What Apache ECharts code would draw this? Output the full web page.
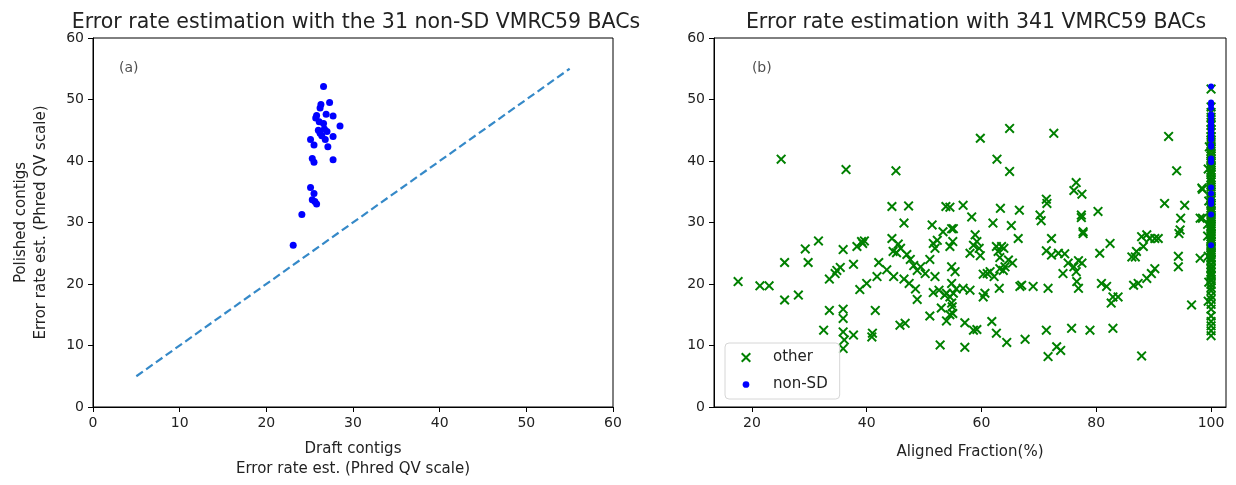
<!DOCTYPE html>
<html><head><meta charset="utf-8">
<script src="https://cdn.jsdelivr.net/npm/echarts@6/dist/echarts.min.js"></script>
<style>html,body{margin:0;padding:0;background:#fff}#chart{width:1236px;height:485px}</style>
</head><body><div id="chart"></div>
<script>
// ---- data ----
const draftQV = [26.6, 27.3, 26.3, 26.2, 25.8, 26.9, 27.7, 26.1, 26.6, 28.5, 26.7, 26.2, 26.4, 27.7, 26.8, 25.1, 25.5, 27.1, 25.3, 25.5, 27.7, 25.1, 25.5, 25.3, 25.8, 24.1, 23.1, 26.0, 27.0, 25.7, 25.6];
const polishedQV = [52.1, 49.5, 49.2, 48.6, 47.4, 47.6, 47.3, 46.4, 46.1, 45.7, 45.2, 44.5, 44.1, 44.0, 43.5, 43.5, 42.6, 42.3, 40.4, 39.8, 40.2, 35.7, 34.7, 33.7, 33.0, 31.3, 26.3, 45.0, 44.8, 47.0, 33.4];
const nonSdAligned = [100, 100, 100, 100, 100, 100, 100, 100, 100, 100, 100, 100, 100, 100, 100, 100, 100, 100, 100, 100, 100, 100, 100, 100, 100, 100, 100, 100, 100, 100, 100];
const diagonal = [[5, 5], [55, 55]];
const otherPoints = [
  [17.6,20.4],[21.4,19.7],[23.0,19.7],[25.1,40.3],[25.7,23.5],[25.7,17.4],[28.1,18.2],[29.3,25.7],[29.8,23.5],[31.6,27.0],
  [32.5,12.5],[33.5,20.8],[33.5,15.7],[34.5,21.7],[34.8,22.2],[35.4,22.7],[35.9,25.6],[36.4,38.6],[35.9,15.9],[35.9,14.4],
  [35.9,12.2],[36.1,10.9],[35.9,9.5],[37.7,23.2],[37.7,11.7],[38.3,26.1],[38.8,19.1],[39.3,26.6],[39.6,27.0],[39.1,26.9],
  [40.0,20.1],[40.9,11.4],[41.0,12.0],[41.5,15.7],[41.8,21.2],[42.1,23.5],[43.5,22.3],[44.4,32.6],[44.7,21.2],[45.1,38.4],
  [44.4,27.4],[44.6,25.3],[45.5,26.5],[45.9,25.8],[45.2,25.1],[45.8,13.3],[46.7,13.6],[46.5,29.9],[47.3,32.7],[47.0,24.8],
  [47.6,24.0],[48.2,23.0],[48.8,22.2],[49.4,22.8],[50.2,21.7],[46.5,20.8],[47.4,20.1],[48.5,19.2],[48.8,17.5],[51.0,24.0],
  [51.0,14.8],[51.4,29.6],[51.6,26.6],[51.9,25.8],[51.9,21.2],[51.6,18.6],[52.8,10.1],[53.3,28.5],[53.6,18.2],[53.9,18.5],
  [54.5,17.9],[53.8,32.6],[53.9,14.0],[54.8,29.0],[55.0,15.2],[54.9,16.3],[55.6,19.2],[52.6,19.0],[53.0,16.1],[52.3,27.1],
  [59.8,43.7],[64.9,45.3],[72.6,44.5],[62.7,40.3],[64.9,38.3],[92.6,44.0],[94.0,38.4],[76.5,36.5],[76.1,35.2],[77.5,34.6],
  [71.3,33.8],[71.4,33.1],[70.2,31.2],[70.4,30.3],[56.8,32.8],[63.3,32.3],[66.6,32.0],[58.3,30.9],[54.5,32.5],[62.0,29.9],
  [65.2,29.5],[77.4,31.2],[77.4,30.8],[80.3,31.8],[77.7,28.5],[77.7,28.2],[91.9,33.1],[95.4,32.8],[94.7,30.7],[94.6,28.8],
  [94.4,28.2],[98.5,35.4],[98.1,30.7],[55.1,29.0],[55.0,26.9],[58.9,28.0],[59.2,26.9],[58.6,26.3],[59.6,25.8],[58.0,25.0],
  [59.8,24.6],[54.5,26.1],[54.8,22.8],[55.4,22.0],[54.8,20.1],[55.1,18.5],[54.8,16.9],[54.5,15.0],[66.4,27.4],[63.5,26.1],
  [63.9,25.8],[63.2,24.3],[64.7,23.9],[65.4,23.4],[64.1,22.8],[61.0,21.7],[61.5,22.0],[60.3,21.6],[62.2,21.2],[56.8,19.3],
  [58.0,19.0],[60.3,17.9],[60.6,18.5],[63.1,19.3],[66.7,19.6],[67.0,19.8],[69.0,19.6],[71.6,19.3],[72.2,27.4],[71.3,25.4],
  [72.2,24.7],[73.4,25.0],[74.5,24.9],[74.2,21.7],[75.1,23.4],[76.1,22.8],[76.9,23.8],[76.5,22.0],[76.6,20.4],[76.9,19.3],
  [77.5,23.4],[80.6,25.0],[82.4,26.6],[80.9,20.1],[81.8,19.6],[82.9,17.9],[83.8,17.9],[82.6,16.9],[86.2,24.4],[87.0,25.3],
  [87.9,27.7],[88.2,26.1],[88.8,28.0],[89.3,27.4],[90.2,27.4],[90.8,27.4],[87.3,20.1],[86.5,19.8],[88.8,20.9],[90.2,22.5],
  [89.6,21.7],[94.3,24.5],[94.3,22.8],[96.6,16.6],[71.3,12.5],[75.7,12.8],[78.9,12.5],[82.9,12.8],[57.1,13.7],[58.6,12.5],
  [59.2,12.6],[61.8,13.9],[62.6,12.0],[64.4,10.5],[67.6,11.0],[57.1,9.7],[71.6,8.2],[73.1,9.8],[73.8,9.2],[87.9,8.3],
  [86.8,24.4],[62.6,26.1],[62.9,25.3],[63.2,22.5],[63.8,22.2],[98.4,35.6],[98.5,30.7],[98.1,24.2],
  [99.5,24.5],[99.4,27.8],[99.6,33.5],[99.5,38.7],[99.6,20.3],[99.4,29.7],[99.7,42.3],[99.5,17.2],
  [100,11.6],[100,12.4],[100,13.2],[100,13.9],[100,14.8],[100,15.9],[100,16.7],[100,17.5],[100,18.1],[100,18.9],
  [100,19.4],[100,19.9],[100,20.5],[100,20.8],[100,21.3],[100,21.5],[100,21.9],[100,22.4],[100,22.6],[100,23.1],
  [100,23.2],[100,23.8],[100,24.0],[100,24.3],[100,24.7],[100,25.0],[100,25.2],[100,25.6],[100,25.9],[100,26.1],
  [100,26.5],[100,26.8],[100,27.0],[100,27.3],[100,27.7],[100,28.0],[100,28.2],[100,28.6],[100,28.9],[100,29.3],
  [100,29.5],[100,29.8],[100,30.2],[100,30.6],[100,30.9],[100,31.2],[100,31.6],[100,31.9],[100,32.3],[100,32.8],
  [100,33.1],[100,33.6],[100,34.0],[100,34.3],[100,34.9],[100,35.2],[100,35.8],[100,36.1],[100,36.6],[100,36.9],
  [100,37.3],[100,37.8],[100,38.2],[100,38.5],[100,39.0],[100,39.3],[100,39.7],[100,40.0],[100,40.3],[100,40.8],
  [100,41.1],[100,41.6],[100,42.0],[100,42.5],[100,43.1],[100,43.4],[100,44.0],[100,44.6],[100,45.1],[100,45.8],
  [100,46.3],[100,47.1],[100,47.9],[100,48.8],[100,51.7]
];
const qvTicks = [0, 10, 20, 30, 40, 50, 60];
const alignedTicks = [20, 40, 60, 80, 100];
const panelLabels = [{ name: '(a)', pos: [3, 55] }, { name: '(b)', pos: [20, 55] }];

// ---- chart ----
const TXT = '#222';
const FONT = 'DejaVu Sans';
const crossIcon = 'path://M0,1.4L1.4,0L5,3.6L8.6,0L10,1.4L6.4,5L10,8.6L8.6,10L5,6.4L1.4,10L0,8.6L3.6,5Z';
const crossLegendIcon = 'path://M-2,-2M12,12M0,1.4L1.4,0L5,3.6L8.6,0L10,1.4L6.4,5L10,8.6L8.6,10L5,6.4L1.4,10L0,8.6L3.6,5Z';
const dotIcon = 'path://M0,0M10,10M7.4,5A2.4,2.4,0,1,1,2.6,5A2.4,2.4,0,1,1,7.4,5Z';

function axisBase(extra) {
  return Object.assign({
    type: 'value',
    axisLine: { show: true, lineStyle: { color: '#000', width: 1 } },
    axisTick: { show: true, inside: false, length: 5, lineStyle: { color: '#000' } },
    axisLabel: { color: TXT, fontSize: 14, fontFamily: FONT, margin: 9 },
    splitLine: { show: false },
    nameTextStyle: { color: TXT, fontSize: 15, fontFamily: FONT, lineHeight: 20 }
  }, extra);
}

const chart = echarts.init(document.getElementById('chart'), null, { renderer: 'canvas' });
chart.setOption({
  animation: false,
  backgroundColor: '#fff',
  textStyle: { fontFamily: FONT },
  title: [
    { text: 'Error rate estimation with the 31 non-SD VMRC59 BACs', left: 351, top: 7, textAlign: 'center',
      textStyle: { fontSize: 20.5, fontWeight: 'normal', color: TXT, fontFamily: FONT } },
    { text: 'Error rate estimation with 341 VMRC59 BACs', left: 971, top: 7, textAlign: 'center',
      textStyle: { fontSize: 20.5, fontWeight: 'normal', color: TXT, fontFamily: FONT } }
  ],
  grid: [
    { left: 93, top: 38, width: 520, height: 369, show: true, borderColor: '#000', borderWidth: 1, backgroundColor: 'transparent' },
    { left: 714, top: 38, width: 512, height: 369, show: true, borderColor: '#000', borderWidth: 1, backgroundColor: 'transparent' }
  ],
  xAxis: [
    axisBase({ gridIndex: 0, min: qvTicks[0], max: qvTicks[qvTicks.length - 1], interval: 10,
      name: 'Draft contigs\nError rate est. (Phred QV scale)', nameLocation: 'middle', nameGap: 32 }),
    axisBase({ gridIndex: 1, min: 13.4, max: 102.6,
      axisLabel: { color: TXT, fontSize: 14, fontFamily: FONT, margin: 9, customValues: alignedTicks },
      axisTick: { show: true, inside: false, length: 5, lineStyle: { color: '#000' }, customValues: alignedTicks },
      name: 'Aligned Fraction(%)', nameLocation: 'middle', nameGap: 35 })
  ],
  yAxis: [
    axisBase({ gridIndex: 0, min: qvTicks[0], max: qvTicks[qvTicks.length - 1], interval: 10,
      name: 'Polished contigs\nError rate est. (Phred QV scale)', nameLocation: 'middle', nameGap: 42 }),
    axisBase({ gridIndex: 1, min: qvTicks[0], max: qvTicks[qvTicks.length - 1], interval: 10 })
  ],
  legend: {
    orient: 'vertical', left: 725, top: 343,
    padding: [7, 12, 7, 14], itemGap: 12, itemWidth: 22, itemHeight: 14,
    backgroundColor: 'rgba(255,255,255,0.8)', borderColor: '#d6d6d6', borderWidth: 1, borderRadius: 4,
    textStyle: { color: TXT, fontSize: 15, fontFamily: FONT, padding: [0, 0, 0, 11] },
    data: [
      { name: 'other', icon: crossLegendIcon },
      { name: 'non-SD', icon: dotIcon }
    ]
  },
  series: [
    { type: 'scatter', xAxisIndex: 0, yAxisIndex: 0, name: 'polished-left',
      symbol: 'circle', symbolSize: 7, itemStyle: { color: '#0000ff', opacity: 1 },
      data: draftQV.map((d, i) => [d, polishedQV[i]]), z: 3 },
    { type: 'line', xAxisIndex: 0, yAxisIndex: 0, name: 'diag', data: diagonal, symbol: 'none',
      lineStyle: { color: '#3589c8', width: 2.2, type: [8, 4] }, z: 2 },
    { type: 'scatter', xAxisIndex: 1, yAxisIndex: 1, name: 'other',
      symbol: crossIcon, symbolSize: 10, itemStyle: { color: '#008000', opacity: 1 },
      data: otherPoints, z: 2 },
    { type: 'scatter', xAxisIndex: 1, yAxisIndex: 1, name: 'non-SD',
      symbol: 'circle', symbolSize: 6, itemStyle: { color: '#0000ff', opacity: 1 },
      data: nonSdAligned.map((a, i) => [a, polishedQV[i]]), z: 3 },
    { type: 'scatter', xAxisIndex: 0, yAxisIndex: 0, name: 'labelA', symbolSize: 0, silent: true,
      data: [panelLabels[0].pos],
      label: { show: true, position: 'right', distance: 0, formatter: panelLabels[0].name, color: TXT, fontSize: 14, fontFamily: FONT } },
    { type: 'scatter', xAxisIndex: 1, yAxisIndex: 1, name: 'labelB', symbolSize: 0, silent: true,
      data: [panelLabels[1].pos],
      label: { show: true, position: 'right', distance: 0, formatter: panelLabels[1].name, color: TXT, fontSize: 14, fontFamily: FONT } }
  ]
});
</script></body></html>
